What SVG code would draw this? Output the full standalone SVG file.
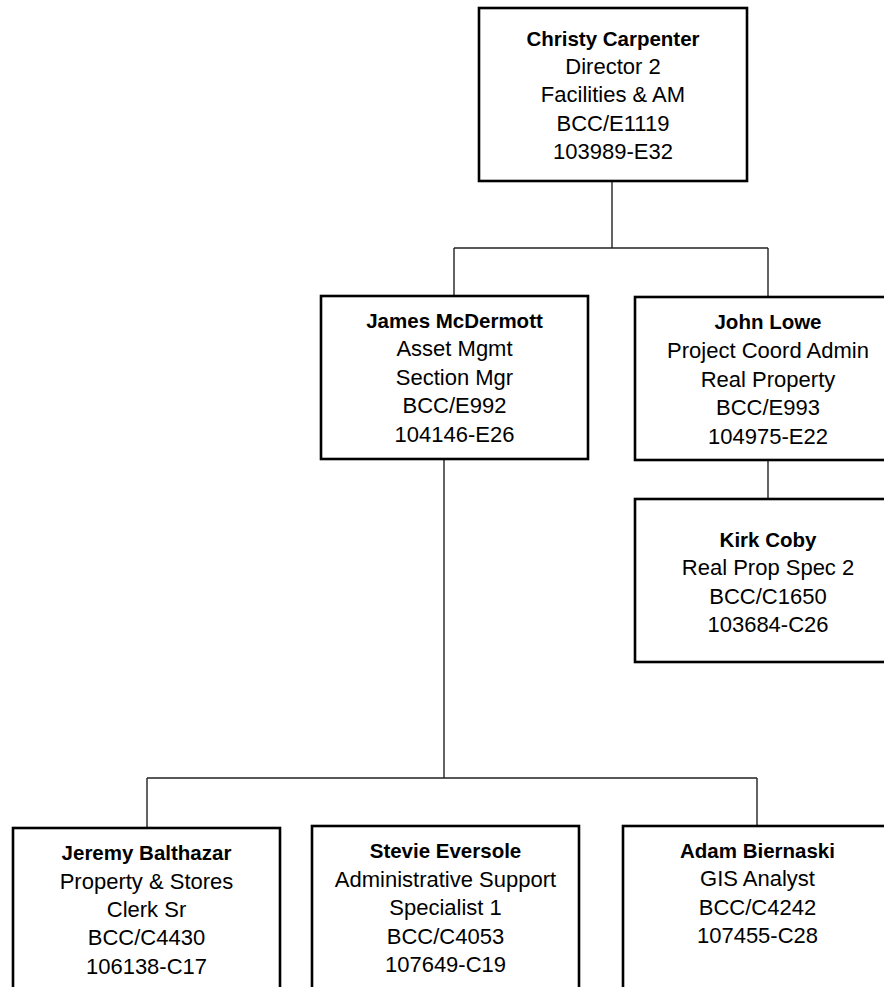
<svg xmlns="http://www.w3.org/2000/svg" width="884" height="987" viewBox="0 0 884 987">
  <style>
    .box { fill: #fff; stroke: #000; stroke-width: 2.6; }
    .link { fill: none; stroke: #222; stroke-width: 1.4; }
    text { font-family: "Liberation Sans", Arial, sans-serif; font-size: 22px; fill: #000; text-anchor: middle; }
    .name { font-weight: bold; font-size: 20.5px; }
  </style>
  <rect width="884" height="987" fill="#fff"/>

  <!-- reporting lines -->
  <g id="connectors">
    <path class="link" d="M612,181 V248 M454,248 H768 M454,248 V296 M768,248 V297"/>
    <path class="link" d="M768,460 V499"/>
    <path class="link" d="M444,459 V778 M147,778 H757 M147,778 V828 M757,778 V826"/>
  </g>

  <g id="christy-carpenter">
    <rect class="box" x="479" y="8" width="268" height="173"/>
    <text class="name" x="613" y="45.5">Christy Carpenter</text>
    <text x="613" y="74">Director 2</text>
    <text x="613" y="102">Facilities &amp; AM</text>
    <text x="613" y="130.5">BCC/E1119</text>
    <text x="613" y="159">103989-E32</text>
  </g>

  <g id="james-mcdermott">
    <rect class="box" x="321" y="296" width="267" height="163"/>
    <text class="name" x="454.5" y="327.5">James McDermott</text>
    <text x="454.5" y="356">Asset Mgmt</text>
    <text x="454.5" y="384.5">Section Mgr</text>
    <text x="454.5" y="413">BCC/E992</text>
    <text x="454.5" y="441.5">104146-E26</text>
  </g>

  <g id="john-lowe">
    <rect class="box" x="635" y="297" width="266" height="163"/>
    <text class="name" x="768" y="329">John Lowe</text>
    <text x="768" y="358">Project Coord Admin</text>
    <text x="768" y="386.5">Real Property</text>
    <text x="768" y="415">BCC/E993</text>
    <text x="768" y="443.5">104975-E22</text>
  </g>

  <g id="kirk-coby">
    <rect class="box" x="635" y="499" width="266" height="163"/>
    <text class="name" x="768" y="546.5">Kirk Coby</text>
    <text x="768" y="575">Real Prop Spec 2</text>
    <text x="768" y="603.5">BCC/C1650</text>
    <text x="768" y="632">103684-C26</text>
  </g>

  <g id="jeremy-balthazar">
    <rect class="box" x="13" y="828" width="267" height="180"/>
    <text class="name" x="146.5" y="860">Jeremy Balthazar</text>
    <text x="146.5" y="888.5">Property &amp; Stores</text>
    <text x="146.5" y="917">Clerk Sr</text>
    <text x="146.5" y="945">BCC/C4430</text>
    <text x="146.5" y="973.5">106138-C17</text>
  </g>

  <g id="stevie-eversole">
    <rect class="box" x="312" y="826" width="267" height="180"/>
    <text class="name" x="445.5" y="858">Stevie Eversole</text>
    <text x="445.5" y="886.5">Administrative Support</text>
    <text x="445.5" y="915">Specialist 1</text>
    <text x="445.5" y="943.5">BCC/C4053</text>
    <text x="445.5" y="972">107649-C19</text>
  </g>

  <g id="adam-biernaski">
    <rect class="box" x="623" y="826" width="268" height="180"/>
    <text class="name" x="757.5" y="858">Adam Biernaski</text>
    <text x="757.5" y="886">GIS Analyst</text>
    <text x="757.5" y="914.5">BCC/C4242</text>
    <text x="757.5" y="943">107455-C28</text>
  </g>
</svg>
